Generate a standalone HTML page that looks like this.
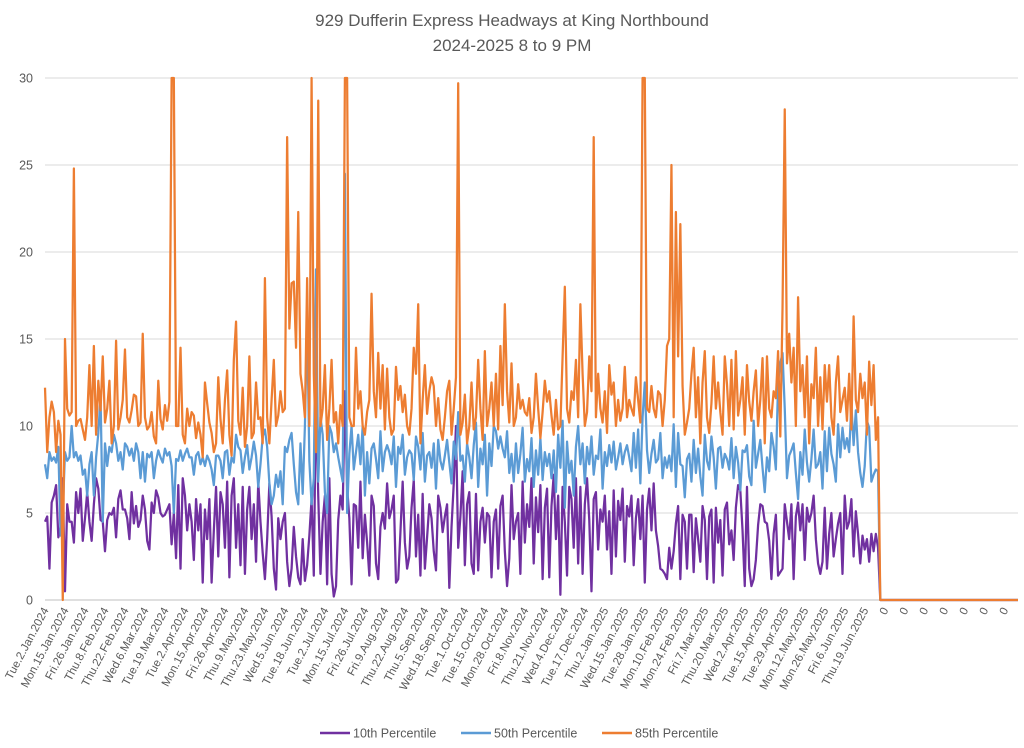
<!DOCTYPE html>
<html><head><meta charset="utf-8"><title>929 Dufferin Express Headways</title>
<style>
html,body{margin:0;padding:0;background:#fff;}
svg{display:block;font-family:"Liberation Sans",Calibri,sans-serif;}
</style></head>
<body>
<svg id="chart" width="1024" height="748" viewBox="0 0 1024 748">
  <text x="512" y="26" text-anchor="middle" font-size="17" fill="#595959">929 Dufferin Express Headways at King Northbound</text>
  <text x="512" y="51" text-anchor="middle" font-size="17" fill="#595959">2024-2025 8 to 9 PM</text>
  <g id="grid"></g>
  <g id="yaxis"></g>
  <g id="xaxis"></g>
  <g id="series"></g>
  <g>
    <g>
      <line x1="320" y1="733" x2="350" y2="733" stroke="#7030a0" stroke-width="2.5"/>
      <text x="353" y="737.5" font-size="12.5" fill="#595959">10th Percentile</text>
    </g>
    <g>
      <line x1="461" y1="733" x2="491" y2="733" stroke="#5b9bd5" stroke-width="2.5"/>
      <text x="494" y="737.5" font-size="12.5" fill="#595959">50th Percentile</text>
    </g>
    <g>
      <line x1="602" y1="733" x2="632" y2="733" stroke="#ed7d31" stroke-width="2.5"/>
      <text x="635" y="737.5" font-size="12.5" fill="#595959">85th Percentile</text>
    </g>
  </g>
</svg>
<script>
const dateLabels = ["Tue.2.Jan.2024","Mon.15.Jan.2024","Fri.26.Jan.2024","Thu.8.Feb.2024","Thu.22.Feb.2024","Wed.6.Mar.2024","Tue.19.Mar.2024","Tue.2.Apr.2024","Mon.15.Apr.2024","Fri.26.Apr.2024","Thu.9.May.2024","Thu.23.May.2024","Wed.5.Jun.2024","Tue.18.Jun.2024","Tue.2.Jul.2024","Mon.15.Jul.2024","Fri.26.Jul.2024","Fri.9.Aug.2024","Thu.22.Aug.2024","Thu.5.Sep.2024","Wed.18.Sep.2024","Tue.1.Oct.2024","Tue.15.Oct.2024","Mon.28.Oct.2024","Fri.8.Nov.2024","Thu.21.Nov.2024","Wed.4.Dec.2024","Tue.17.Dec.2024","Thu.2.Jan.2025","Wed.15.Jan.2025","Tue.28.Jan.2025","Mon.10.Feb.2025","Mon.24.Feb.2025","Fri.7.Mar.2025","Thu.20.Mar.2025","Wed.2.Apr.2025","Tue.15.Apr.2025","Tue.29.Apr.2025","Mon.12.May.2025","Mon.26.May.2025","Fri.6.Jun.2025","Thu.19.Jun.2025"];
const yTicks = [0,5,10,15,20,25,30];
const trailingZeroCategories = 63;
const p85 = [
12.2,8.5,10.5,11.4,10.8,8.5,10.3,9.5,0,15,11,10.6,10.8,24.8,10,10.3,10.4,9.8,9.2,10.5,
13.5,10,14.6,9.5,12.6,10.9,14,10.2,11,12.6,9,10,14.9,9.8,10.5,11.5,14.4,10.5,10.2,10.9,
11.8,11.7,10,10.2,15.3,10.5,9.8,10,10.8,9.4,9,12.6,10.4,9.8,11.2,10.3,11.4,30,30,10,
10,14.5,9.5,9,11,10,10.8,10.6,9.3,10.2,9.5,8.2,12.5,11.3,10.2,9.6,8.5,9,12.8,10.4,
9,11.5,13.2,9.5,8.3,13.8,16,10.3,9.5,12.2,8.8,10,14,9.3,9.6,12.5,10.4,10.5,9,18.5,
10.5,9,11.5,13.8,10,10.6,12,10.8,11,26.6,15.6,18.2,18.3,14.5,22.3,13,12,10.5,18.5,10,
30,13,8.5,28.7,10,11,13.5,9.2,11,13.8,10.2,10.8,9,11.2,10,30,30,10.5,10,10,
14.5,11,12,10,9.5,10.8,11.5,17.6,12,10.5,14.2,11,13.5,9.8,13.3,10.5,9.5,9.8,13.4,11.5,
12.3,10.8,11.8,10,9.5,11,14.5,13,17,9,11.5,13.5,10.7,12,12.8,12.3,10,11.6,9.8,9.2,
10.5,12,12.6,9.5,11,12.8,29.7,9.5,10.2,11.8,9,10,12.5,9.8,10.5,13.8,11,9.2,14.3,10,
11,12.5,10,13,9.8,14.6,11.2,17,12,10.2,13.6,10,10.5,12.4,11,11.5,10.8,10.6,11.6,9.6,
10.5,13,11,9.3,10.8,12.6,11.4,12,10.6,9.5,11.5,9.8,10,14,18,11,10.2,12,11.5,13.8,
10.5,17,13,10,10.8,14,12,26.6,10.5,13,11,10.2,12,9.6,13.5,11.8,12.5,10,11.5,10.3,
11,13.4,10.5,11.5,11,10.6,12.8,11.5,10.2,30,30,11,10.8,12.3,11,10.5,12,11.8,10,11.5,
14.6,15,25,10.5,22.3,14,21.6,12.3,9.5,10.2,11,13,14.5,10.5,12.8,9,12.5,14.3,10.5,9.6,
11.3,14,11,12.5,10.8,9.5,14,12.4,10,13.8,9.8,14.3,10.6,11.5,12.8,9.5,13.5,11.4,10.3,12,
13.2,10,11.5,13.9,9,14,11,10.5,12,11.6,14.3,9.4,16.8,28.2,13.6,15.3,12.5,14.5,10,17.4,
12,13.5,10.5,14,9,12.4,11.6,14.5,10,12.8,9.8,13.5,11.4,13.5,10.5,9.5,12.5,14,10.8,11.5,
12.2,10.3,13,9.8,16.3,11.5,10.8,13,11.6,12.5,9.5,13.7,11.2,13.5,9.2,10.5];
const p50 = [
7.8,7,8.5,8,8.2,7.9,8.8,3.7,5,8.5,8,8.2,10,8.2,8.5,8,8.3,7.2,7.5,6,
7.8,8.5,6,8.2,9.6,11.7,4.5,9,7.7,8.8,8.5,9.5,9,8,8.5,7.5,9,8.8,8.3,8.7,
8,9,8.5,7,8.5,6.8,8.4,8.2,8.5,7,8,8.6,8.2,7.9,8.7,8.3,8.5,7.7,5,8.1,
8,8.6,8,8.4,8.7,8.2,8.2,7.2,8.3,8.5,7.8,8.2,7.7,8.3,8,7.5,6.6,8.3,8.3,8,
7,8.5,8.6,7.2,8.2,7.9,9.5,8.8,8.6,7.3,8.2,8.9,7.5,8.2,9.1,8.3,6.5,7.8,9.4,9.8,
8.8,6.7,5.5,6,7.2,6.5,7.4,5.5,8.8,8.5,9.2,9.6,7.8,6.2,5.5,9,6.1,10,16.2,8,
5.5,7,19,6.8,10.5,9.5,6.2,5,10,9.6,8.5,9,8.2,7.5,6.8,24.5,5,8.4,10,7.5,
8.5,9.5,7.8,10,6,8.5,6.7,8.7,9,8.1,7,9.7,7.4,8.5,8.9,8.5,7.8,9.4,6.5,8.8,
8.4,9.5,7.2,8.2,8.6,8.4,6.9,9.4,8.8,7.5,9.6,6.8,8.3,8.5,7.6,9,6.4,9.2,8,7.5,
8.3,9.2,7.9,6.7,9.1,8.1,10.8,8,8.3,6.8,9,8.2,7,8.9,10.2,6.5,8.7,7.8,9.5,6,
9,7.7,10,9.7,8.7,9.4,8.7,8.2,9.7,7.3,8.4,6.8,9,7.3,8.4,9.9,6.8,8.1,7.4,9.3,
6.5,8.6,7.2,9.3,6.9,8.5,7.7,8.4,7,8.6,6.2,9.5,7.6,10.3,5.3,9.1,7.3,8,6,8.8,
10,7.8,9,6.7,8.8,7.8,9.4,7.2,8.3,8.1,9.8,6.4,8.5,7.7,8.9,7.9,9.1,7.5,8.2,9,
7.8,8.5,8.9,8.2,7.4,9.6,7.6,9.8,6.7,10.5,12.5,8.6,7.3,8.4,9.2,7.9,8.1,9.6,7,8.2,
7.6,8.3,7.4,10.1,6.5,9.6,7.8,7.7,5.9,8.1,8.4,6.8,9.2,7.3,8.7,7.1,6,9.5,8,7.5,
9.4,8.2,6.4,8.7,8.8,7.6,8.4,8.1,7.5,9.3,7,8.8,7.9,6.3,8.6,8.5,8.9,7.1,6.6,10.3,
7.6,8.4,9.2,7.6,6.2,8.2,7.4,9.6,8.8,7.5,12.5,13.6,14.2,11,7,8.3,8.6,9,7.3,5.8,
8.5,7.2,9.8,7.9,6.8,8.1,9.8,7.6,7.8,8.5,6.4,9.7,7.4,9.9,8.4,7.8,6.8,10.1,8.2,9.9,
8.7,9.3,8.5,11.2,8.9,10.9,8.5,7.3,6.5,7.7,10.3,9.9,6.8,7.2,7.5,7.4];
const p10 = [
4.5,4.8,1.8,5.6,6,6.6,3.6,4.2,7,0.5,5.5,4.5,4.5,3.3,6.2,5,6.4,3.4,4.7,6.2,
4.5,3.4,5.5,7,6.4,4.6,4.5,2.8,4.6,5,4.9,5.3,3.6,5.8,6.3,5.2,5.2,4.7,3.5,6.2,
4.4,5.4,4.2,4.6,6,5.2,3.4,2.9,5.6,5,6.3,5.9,5,4.8,4.9,5.2,5.5,3.2,5,2.4,
6.6,1.8,7,6,4,5.5,4.5,2.3,5.8,4,5.5,1,5.2,3.5,5.8,1,4,6.5,2.5,6.2,
5.5,3,6.8,1.3,6,7,3,5.5,2,6.5,1.5,5.2,6.5,3.5,5.5,2.2,6.8,4.5,2.7,1.2,
3.5,6.7,4.8,1.8,0.6,4.7,3.5,4.5,5,2.2,0.8,1.8,4.2,2.5,1.3,0.9,3.5,1.1,2,3.7,
5.8,1.4,12,6,1.5,4.5,6,0.9,7,1.5,0.2,0.8,4.6,6,5.2,12,6.5,4.7,0.9,5.5,
5.4,3,6.8,2.4,4.9,3.3,1.4,6,5.4,2.1,1.2,4.2,5,4.1,6.7,4.7,5.2,6,1,1.2,
3.9,6.8,3.3,1.8,2.5,5.3,6.9,2.5,4.9,1.4,6.1,1.8,3.6,5.5,4.7,2.8,1.7,6,5.3,3.9,
4.8,5.5,0.7,4.2,6.7,10,3,4.8,7.4,2,5.5,6.2,2.1,1.5,6.1,1.7,4.5,5.3,3.3,5,
4.8,1.3,4.5,5.2,1.8,5.4,6,2.8,0.8,2.4,6.6,3.5,4.5,5,1.5,6.8,3.3,5.5,4.2,7,
2.1,5.9,3.9,6.6,1.2,5.3,6.4,1.3,5.4,7.2,3.5,6,0.3,6.5,4.5,1.4,6.5,5.8,3,7,
2.1,6.5,1.5,5.5,7,4.6,0.5,5.8,6.2,2.9,5.2,4.5,6,2.9,5.1,1.5,6.3,2.5,5.7,4.6,
6.4,2.2,5.4,4.8,6,2,4.7,5.8,3.5,6,1,5.2,6.4,4,6.7,4,3.1,1.8,1.7,1.5,
1.2,3,1.8,2.8,4.4,5.4,1.2,4.9,4.5,1.8,4.9,4.9,1.6,4.7,3.5,2.2,5.4,4.6,1.2,4.8,
5.2,1,5.3,3.3,4.6,1.4,5.2,5.6,3.2,4,2.3,5.3,6.6,6.3,4,0.8,6.5,1.8,0.8,1.2,
2.3,4.3,5.5,5.4,4.5,4.4,3.4,1.2,3.8,4.9,1.4,1.6,1.8,5.5,4.5,3.5,5.5,1.2,4.8,5.6,
4,5.5,2.3,5.3,4.5,5,6,3.5,2.1,1.5,2.2,5.3,1.8,3.8,5,2.5,3.5,4.4,5,1.5,
6,4.1,4.5,5.8,2.5,5.1,3.8,2.1,3.7,2.9,3.5,2.2,3.8,2.8,3.8,3];

const NS = "http://www.w3.org/2000/svg";
const X0 = 45, X1 = 1018, Y0 = 600, Y1 = 78, YMAX = 30;
const labelEvery = 9;
const dateCount = Math.max(p85.length, p50.length, p10.length);
const totalCats = dateCount + trailingZeroCategories;
function xScale(i){ return X0 + (X1 - X0) * i / (totalCats - 1); }
function yScale(v){ return Y0 - (Y0 - Y1) * v / YMAX; }
function mk(tag, attrs){ const e = document.createElementNS(NS, tag); for (const k in attrs) e.setAttribute(k, attrs[k]); return e; }

const grid = document.getElementById('grid'), yax = document.getElementById('yaxis'), xax = document.getElementById('xaxis'), ser = document.getElementById('series');
yTicks.forEach(t => {
  const ln = mk('line', {x1:X0, x2:X1, y1:yScale(t), y2:yScale(t), stroke: t===0 ? '#bfbfbf' : '#d9d9d9', 'stroke-width':1});
  
  
  grid.appendChild(ln);
  const tx = mk('text', {x:33, y:yScale(t)+4.5, 'text-anchor':'end', 'font-size':12.5, fill:'#595959'});
  tx.textContent = t;
  
  
  yax.appendChild(tx);
});
for (let i = 0; i < totalCats; i += labelEvery) {
  const k = i / labelEvery;
  const lbl = i < dateCount ? (dateLabels[k] || '') : '0';
  const x = xScale(i) + 4, y = 610;
  const tx = mk('text', {x:x, y:y, 'text-anchor':'end', 'font-size':11.5, fill:'#595959', transform:'rotate(-62 '+x+' '+y+')'});
  tx.textContent = lbl;
  
  
  xax.appendChild(tx);
}
function drawSeries(vals, color, name){
  let d = '';
  for (let i = 0; i < totalCats; i++) {
    const v = i < vals.length ? vals[i] : 0;
    d += (i ? 'L' : 'M') + xScale(i).toFixed(2) + ' ' + yScale(Math.min(v, YMAX)).toFixed(2);
  }
  const p = mk('path', {d:d, fill:'none', stroke:color, 'stroke-width':2.25, 'stroke-linejoin':'round'});
  
  
  ser.appendChild(p);
}
drawSeries(p10, '#7030a0', 'line-10th-percentile');
drawSeries(p50, '#5b9bd5', 'line-50th-percentile');
drawSeries(p85, '#ed7d31', 'line-85th-percentile');
</script>
</body></html>
